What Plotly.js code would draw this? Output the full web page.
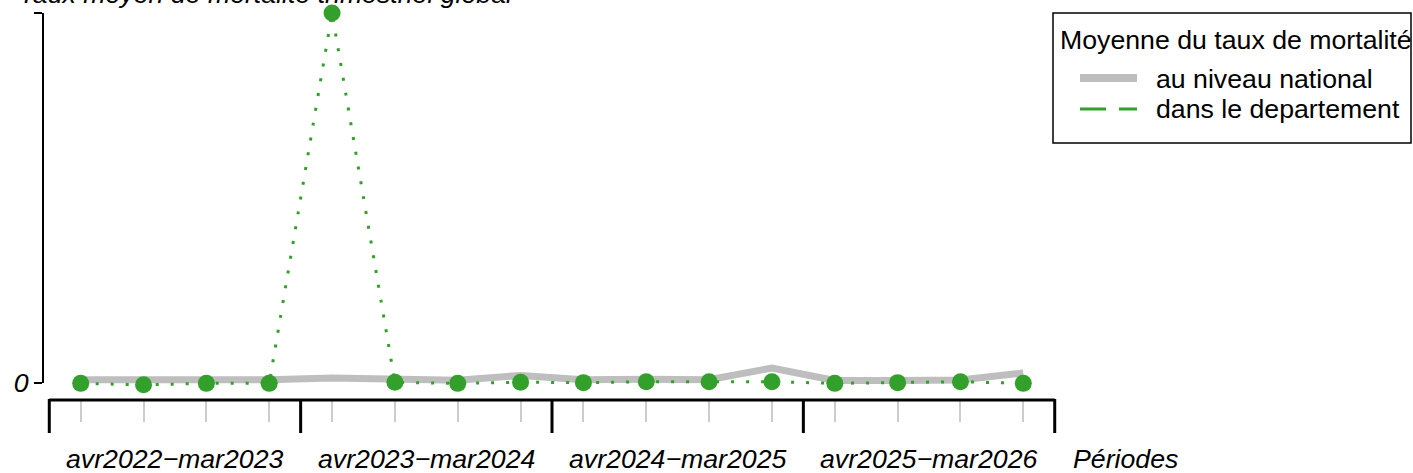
<!DOCTYPE html>
<html>
<head>
<meta charset="utf-8">
<script src="https://cdn.plot.ly/plotly-3.0.1.min.js"></script>
<style>html,body{margin:0;padding:0;background:#fff;}#chart{width:1413px;height:473px;}</style>
</head>
<body>
<div id="chart"></div>
<script>
// ---- data ----
const quarters = ['avr-jun 2022','jul-sep 2022','oct-déc 2022','jan-mar 2023',
                  'avr-jun 2023','jul-sep 2023','oct-déc 2023','jan-mar 2024',
                  'avr-jun 2024','jul-sep 2024','oct-déc 2024','jan-mar 2025',
                  'avr-jun 2025','jul-sep 2025','oct-déc 2025','jan-mar 2026'];
const yearLabels = ['avr2022\u2212mar2023','avr2023\u2212mar2024','avr2024\u2212mar2025','avr2025\u2212mar2026'];
const national    = [0.09, 0.075, 0.09, 0.09, 0.135, 0.09, 0.075, 0.205, 0.09, 0.10, 0.09, 0.405, 0.07, 0.07, 0.08, 0.27];
const departement = [-0.01, -0.05, -0.01, -0.01, 10, 0.02, -0.01, 0.02, 0.01, 0.035, 0.035, 0.035, -0.01, 0.01, 0.035, -0.01];
const yTickVals = [0, 10];
const yTickText = ['0', ''];
const xAxisTitle = 'Périodes';
const yAxisTitle = 'Taux moyen de mortalité trimestriel global';
const legendTitle = 'Moyenne du taux de mortalité';
const legendNames = ['au niveau national', 'dans le departement'];

// ---- derived ----
const xs = quarters.map((_, i) => i);
const perYear = quarters.length / yearLabels.length;
const yearCenters = yearLabels.map((_, k) => k * perYear + (perYear - 1) / 2);
const boundaries = [];
for (let k = 0; k <= yearLabels.length; k++) boundaries.push(k * perYear - 0.5);

// ---- geometry helpers (pixels -> paper) ----
const W = 1413, H = 473;
const M = {l: 43, r: 352, t: 13, b: 73};
const PW = W - M.l - M.r, PH = H - M.t - M.b;
const px = x => (x - M.l) / PW;
const py = y => (H - M.b - y) / PH;

const FONT = 'Liberation Sans, Arial, Helvetica, sans-serif';
const FS = 26.7;
const GREEN = '#33a02c', GREY = '#bebebe';

const traces = [
  {x: xs, y: national, type: 'scatter', mode: 'lines', name: legendNames[0],
   line: {color: GREY, width: 7}, showlegend: false, hoverinfo: 'skip', cliponaxis: false},
  {x: xs, y: departement, type: 'scatter', mode: 'lines+markers', name: legendNames[1],
   line: {color: GREEN, width: 3, dash: '3px,12px'},
   marker: {color: GREEN, size: 17}, showlegend: false, hoverinfo: 'skip', cliponaxis: false}
];

const shapes = [];
// y axis line from first to last tick
shapes.push({type: 'line', xref: 'paper', yref: 'y', x0: 0, x1: 0,
  y0: yTickVals[0], y1: yTickVals[yTickVals.length - 1], line: {color: '#000', width: 2}});
// x axis thick line between first and last boundaries
shapes.push({type: 'line', xref: 'x', yref: 'paper', x0: boundaries[0], x1: boundaries[boundaries.length - 1],
  y0: 0, y1: 0, ysizemode: 'pixel', yanchor: 0, line: {color: '#000', width: 3}});
// x axis major ticks at year boundaries
boundaries.forEach(b => shapes.push({type: 'line', xref: 'x', yref: 'paper', x0: b, x1: b,
  ysizemode: 'pixel', yanchor: 0, y0: 1, y1: -33, line: {color: '#000', width: 3}}));
// legend box
shapes.push({type: 'rect', xref: 'paper', yref: 'paper', x0: px(1053), x1: px(1411), y0: py(143), y1: py(13),
  line: {color: '#000', width: 1.5}, fillcolor: 'rgba(0,0,0,0)'});
shapes.push({type: 'line', xref: 'paper', yref: 'paper', x0: px(1080), x1: px(1137), y0: py(78), y1: py(78),
  line: {color: GREY, width: 8}});
shapes.push({type: 'line', xref: 'paper', yref: 'paper', x0: px(1080), x1: px(1137), y0: py(109), y1: py(109),
  line: {color: GREEN, width: 3, dash: '26px,13px'}});

const annotations = [];
yearLabels.forEach((t, k) => annotations.push({text: t, x: yearCenters[k], xref: 'x', y: 0, yref: 'paper',
  yshift: -59, xanchor: 'center', yanchor: 'middle', showarrow: false,
  font: {family: FONT, size: FS, style: 'italic', color: '#000'}}));
annotations.push({text: xAxisTitle, x: px(1071), xref: 'paper', y: 0, yref: 'paper', yshift: -59,
  xanchor: 'left', yanchor: 'middle', showarrow: false,
  font: {family: FONT, size: FS, style: 'italic', color: '#000'}});
annotations.push({text: legendTitle, x: px(1058), y: py(40), xref: 'paper', yref: 'paper',
  xanchor: 'left', yanchor: 'middle', showarrow: false, font: {family: FONT, size: FS, color: '#000'}});
annotations.push({text: legendNames[0], x: px(1154), y: py(79), xref: 'paper', yref: 'paper',
  xanchor: 'left', yanchor: 'middle', showarrow: false, font: {family: FONT, size: FS, color: '#000'}});
annotations.push({text: legendNames[1], x: px(1154), y: py(109), xref: 'paper', yref: 'paper',
  xanchor: 'left', yanchor: 'middle', showarrow: false, font: {family: FONT, size: FS, color: '#000'}});

const layout = {
  width: W, height: H,
  margin: M,
  paper_bgcolor: '#fff', plot_bgcolor: '#fff',
  showlegend: false,
  title: {text: yAxisTitle, x: 19 / W, xanchor: 'left', xref: 'container',
    y: 1 - 3 / H, yref: 'container', yanchor: 'bottom',
    font: {family: FONT, size: FS, style: 'italic', color: '#000'}},
  xaxis: {range: [-0.6, 15.6], tickmode: 'array', tickvals: xs, ticktext: xs.map(() => ''),
    ticks: 'outside', ticklen: 21, tickwidth: 2, tickcolor: '#cccccc',
    showline: false, showgrid: false, zeroline: false, fixedrange: true},
  yaxis: {range: [10 - PH / 37, 10], tickmode: 'array', tickvals: yTickVals, ticktext: yTickText,
    ticks: 'outside', ticklen: 8, tickwidth: 2, tickcolor: '#000',
    tickfont: {family: FONT, size: FS, style: 'italic', color: '#000'},
    showline: false, showgrid: false, zeroline: false, fixedrange: true},
  shapes: shapes,
  annotations: annotations
};

Plotly.newPlot('chart', traces, layout, {staticPlot: true, displayModeBar: false});
</script>
</body>
</html>
